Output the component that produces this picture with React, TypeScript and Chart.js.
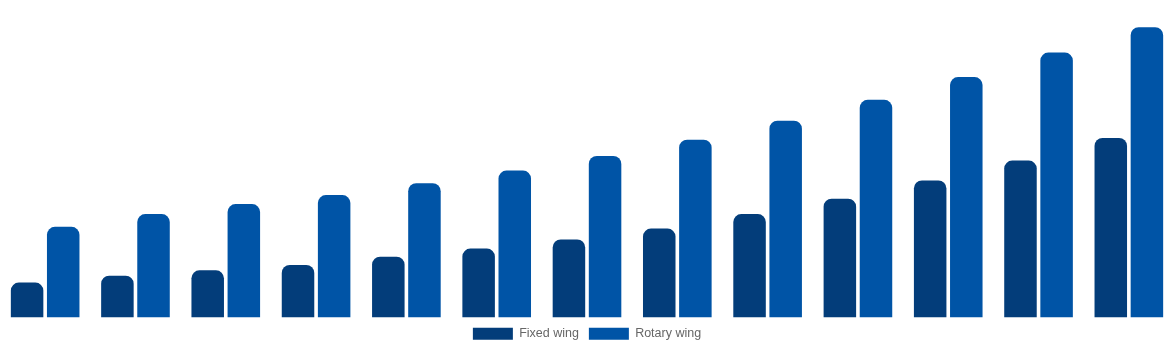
import React, { useEffect, useRef } from "react";
import { Chart, registerables } from "chart.js";

Chart.register(...registerables);

const categories = ["2018", "2019", "2020", "2021", "2022", "2023", "2024", "2025", "2026", "2027", "2028", "2029", "2030"];
const fixedWing = [38.5, 46, 52, 58, 67, 76, 86, 98, 114, 131, 151, 173, 198];
const rotaryWing = [100, 114, 125, 135, 148, 162, 178, 196, 217, 240, 265, 292, 320];

export default function App() {
  const ref = useRef<HTMLCanvasElement | null>(null);
  useEffect(() => {
    if (!ref.current) return;
    const chart = new Chart(ref.current, {
      type: "bar",
      data: {
        labels: categories,
        datasets: [
          { label: "Fixed wing", data: fixedWing, backgroundColor: "#033d7a", borderRadius: 8, categoryPercentage: 0.8, barPercentage: 0.9 },
          { label: "Rotary wing", data: rotaryWing, backgroundColor: "#0054a6", borderRadius: 8, categoryPercentage: 0.8, barPercentage: 0.9 },
        ],
      },
      options: {
        animation: false,
        responsive: false,
        maintainAspectRatio: false,
        layout: { padding: 0 },
        scales: {
          x: { display: false },
          y: { display: false, min: 0, max: 350 },
        },
        plugins: {
          legend: {
            position: "bottom",
            labels: { boxWidth: 40, boxHeight: 12, color: "#666", font: { family: "'Liberation Sans', Arial, sans-serif", size: 12.5 } },
          },
          tooltip: { enabled: false },
        },
      },
    });
    return () => chart.destroy();
  }, []);
  return (
    <div style={{ position: "absolute", left: 0, top: 0, width: 1174, height: 350 }}>
      <canvas ref={ref} width={1174} height={350} />
    </div>
  );
}
